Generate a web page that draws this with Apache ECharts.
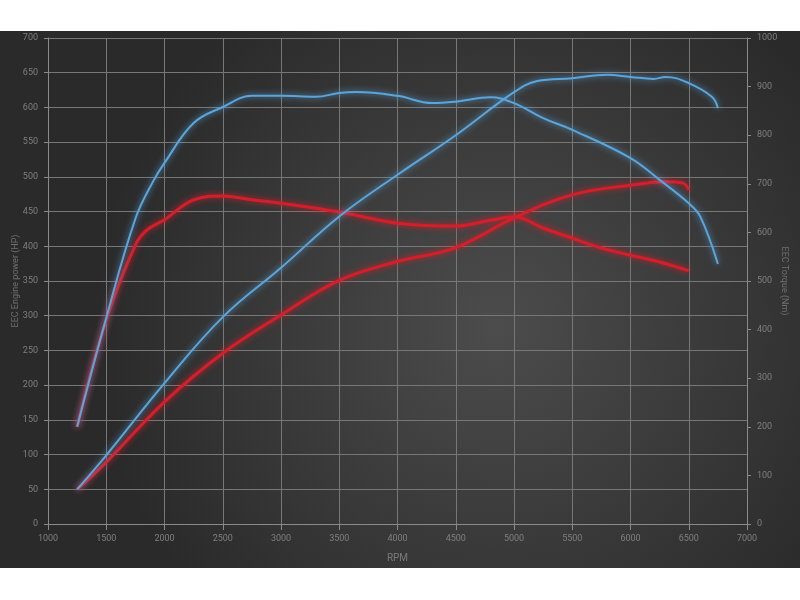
<!DOCTYPE html>
<html>
<head>
<meta charset="utf-8">
<script src="https://cdn.jsdelivr.net/npm/echarts@6/dist/echarts.min.js"></script>
<style>
html,body{margin:0;padding:0;background:#fff;width:800px;height:600px;overflow:hidden;}
#c{position:absolute;left:0;top:31px;width:800px;height:537px;}
</style>
</head>
<body>
<div id="c"></div>
<script>
// Tuned (blue) power, HP
const bluePowerRpm = [1250,1500,2000,2500,3000,3500,4000,4500,5000,5200,5500,5800,6000,6200,6300,6500,6700,6750];
const bluePowerHp  = [50,99,203,298,369,443,503,560,622,638,642,647,644,641,644,635,615,599];
// Tuned (blue) torque, Nm
const blueTorqueRpm = [1250,1500,1750,1900,2000,2250,2500,2750,3000,3300,3500,3650,4000,4300,4500,4800,5000,5250,5500,6000,6250,6500,6600,6750];
const blueTorqueNm  = [200,424,628,704,743,825,858,881,881,879,887,889,881,866,869,878,866,835,811,753,708,660,632,535];
// Stock (red) power, HP
const redPowerRpm = [1250,1500,2000,2500,3000,3500,4000,4500,5000,5500,6000,6300,6450,6500];
const redPowerHp  = [50,89,176,246,301,351,378,398,441,474,488,493,491,481];
// Stock (red) torque, Nm
const redTorqueRpm = [1250,1500,1750,1850,2000,2250,2500,2750,3000,3500,4000,4500,4800,5000,5250,5500,5750,6000,6250,6500];
const redTorqueNm  = [200,420,574,605,626,667,675,667,660,642,619,613,625,632,609,588,568,553,539,521];

const xTicks = {min:1000, max:7000, interval:500};
const hpTicks = {min:0, max:700, interval:50};
const nmTicks = {min:0, max:1000, interval:100};

function pairs(xs, ys){ return xs.map((x,i)=>[x, ys[i]]); }

const BLUE = '#5aa6dc', RED = '#d41f2b';
function lineSeries(name, data, yIdx, color, width){
  return {
    name, type:'line', data, yAxisIndex:yIdx, smooth:0.4, showSymbol:false, symbol:'none',
    lineStyle:{color, width, shadowColor:color, shadowBlur:6},
    z: color===BLUE?3:2
  };
}

const chart = echarts.init(document.getElementById('c'), null, {renderer:'canvas'});
const plain = v => String(v);
const labelStyle = {color:'#7f7f7f', fontSize:9, fontFamily:'Roboto, sans-serif', formatter:plain};
chart.setOption({
  animation:false,
  backgroundColor:{
    type:'radial', x:0.62, y:0.55, r:0.75,
    colorStops:[{offset:0,color:'#4c4c4c'},{offset:1,color:'#2a2a2a'}]
  },
  grid:{left:48, right:53, top:7, bottom:44, containLabel:false, outerBoundsMode:'none'},
  xAxis:{
    type:'value', min:xTicks.min, max:xTicks.max, interval:xTicks.interval,
    name:'RPM', nameLocation:'middle', nameGap:29, nameMoveOverlap:false,
    nameTextStyle:{color:'#7a7a7a', fontSize:10, fontFamily:'Roboto, sans-serif'},
    axisLine:{show:true, lineStyle:{color:'#8a8a8a'}},
    axisTick:{show:true, length:6, lineStyle:{color:'#8a8a8a'}},
    axisLabel:Object.assign({margin:10}, labelStyle),
    splitLine:{show:true, lineStyle:{color:'#777', width:1}}
  },
  yAxis:[{
    type:'value', min:hpTicks.min, max:hpTicks.max, interval:hpTicks.interval,
    name:'EEC Engine power (HP)', nameLocation:'middle', nameGap:28, nameRotate:90, nameMoveOverlap:false,
    nameTextStyle:{color:'#6f6f6f', fontSize:9, fontFamily:'Roboto, sans-serif'},
    axisLine:{show:true, lineStyle:{color:'#8a8a8a'}},
    axisTick:{show:true, length:4, lineStyle:{color:'#8a8a8a'}},
    axisLabel:Object.assign({margin:10}, labelStyle),
    splitLine:{show:true, lineStyle:{color:'#777', width:1}}
  },{
    type:'value', min:nmTicks.min, max:nmTicks.max, interval:nmTicks.interval, position:'right',
    name:'EEC Torque (Nm)', nameLocation:'middle', nameGap:33, nameRotate:-90, nameMoveOverlap:false,
    nameTextStyle:{color:'#6f6f6f', fontSize:9, fontFamily:'Roboto, sans-serif'},
    axisLine:{show:true, lineStyle:{color:'#8a8a8a'}},
    axisTick:{show:true, length:4, lineStyle:{color:'#8a8a8a'}},
    axisLabel:Object.assign({margin:10}, labelStyle),
    splitLine:{show:false}
  }],
  series:[
    lineSeries('Stock power', pairs(redPowerRpm, redPowerHp), 0, RED, 3),
    lineSeries('Stock torque', pairs(redTorqueRpm, redTorqueNm), 1, RED, 3),
    lineSeries('Tuned power', pairs(bluePowerRpm, bluePowerHp), 0, BLUE, 2),
    lineSeries('Tuned torque', pairs(blueTorqueRpm, blueTorqueNm), 1, BLUE, 2)
  ]
});
</script>
</body>
</html>
